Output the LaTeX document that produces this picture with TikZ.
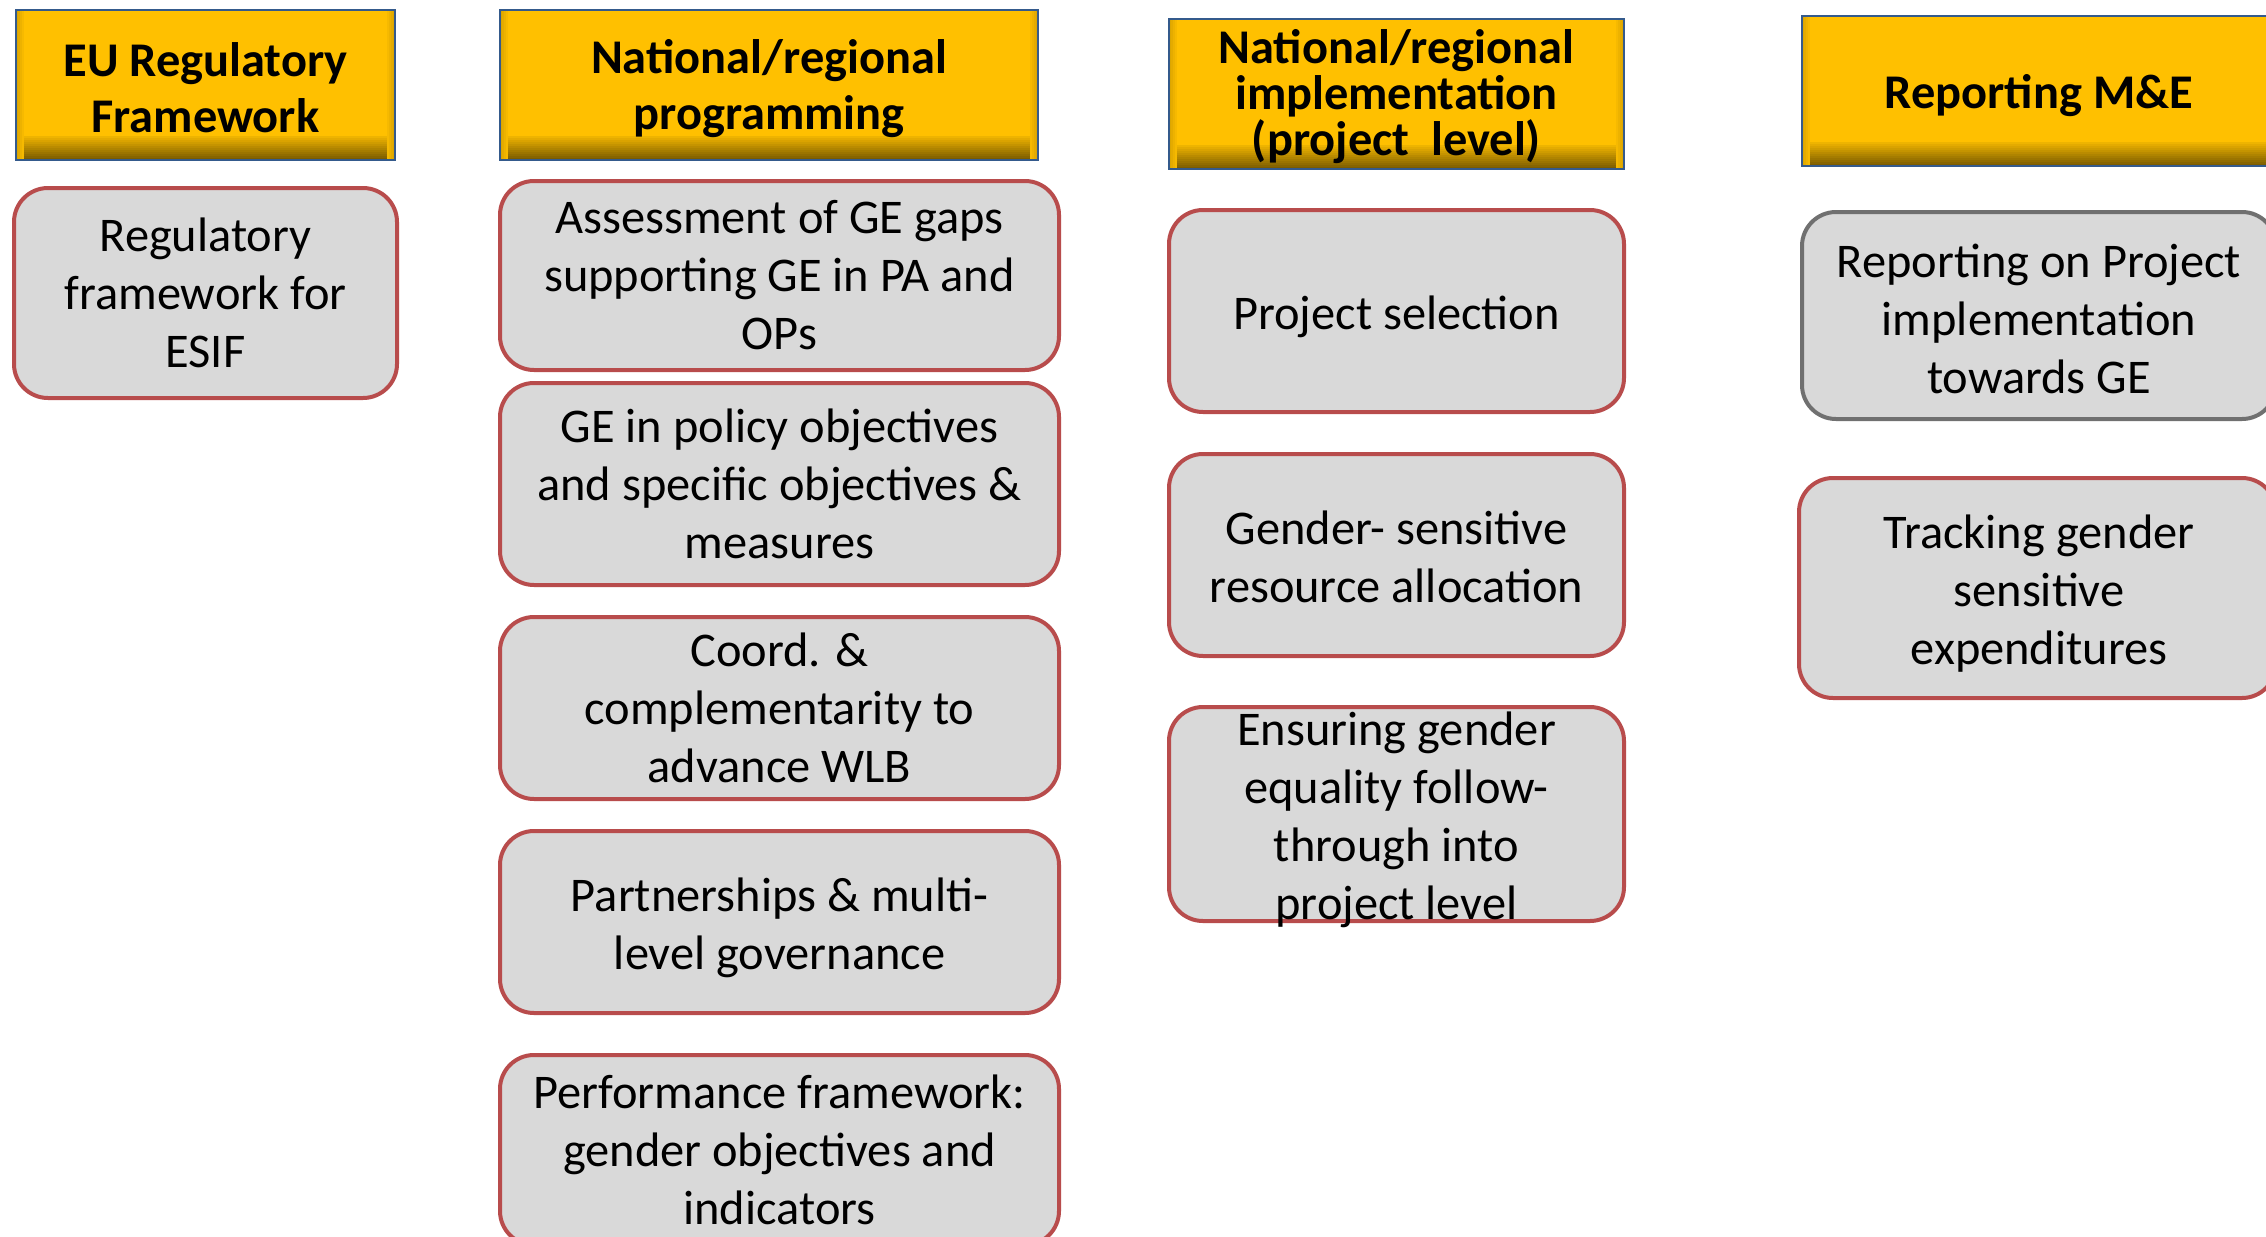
\documentclass[tikz,border=0pt]{standalone}
\usepackage{fontspec}
\setmainfont{Carlito}
\usetikzlibrary{calc}
\definecolor{hdr}{RGB}{255,192,0}
\definecolor{hdrdark}{RGB}{105,78,0}
\definecolor{hdrline}{RGB}{52,90,140}
\definecolor{boxfill}{RGB}{217,217,217}
\definecolor{boxred}{RGB}{184,76,76}
\definecolor{boxgray}{RGB}{112,112,112}
\begin{document}
\begin{tikzpicture}[x=0.5pt,y=-0.5pt,
  hdrbox/.style={rectangle, draw=hdrline, line width=1.4pt, fill=hdr, align=center,
    inner sep=0pt,
    path picture={
      \foreach \i in {0,...,11}{
        \pgfmathsetmacro{\mixa}{int(7*(\i+1)+4)}
        \fill[hdrdark!\mixa!hdr]
          ($(path picture bounding box.south west)+(0pt,12pt-\i pt)$) rectangle
          ($(path picture bounding box.south east)+(0pt,11pt-\i pt)$);
      }
      \foreach \i in {0,...,3}{
        \pgfmathsetmacro{\mixb}{int(6*(4-\i))}
        \fill[hdrdark!\mixb!hdr]
          ($(path picture bounding box.south west)+(\i pt,0pt)$) rectangle
          ($(path picture bounding box.north west)+(\i pt+1pt,0pt)$);
        \fill[hdrdark!\mixb!hdr]
          ($(path picture bounding box.south east)+(-\i pt,0pt)$) rectangle
          ($(path picture bounding box.north east)+(-\i pt-1pt,0pt)$);
      }
    }},
  itembox/.style={rectangle, rounded corners=17pt, draw=boxred, line width=2pt, fill=boxfill,
    align=center, font=\fontsize{24.2}{29}\selectfont, inner sep=0pt},
  grayitem/.style={itembox, draw=boxgray},
  lbl/.style={align=center, font=\fontsize{24.2}{29}\selectfont, inner sep=0pt},
  hlbl/.style={align=center, font=\bfseries\fontsize{24.2}{28}\selectfont, inner sep=0pt}
]
\useasboundingbox (0,0) rectangle (2266,1237);
\clip (0,0) rectangle (2266,1237);
\fill[white] (0,0) rectangle (2266,1237);

% headers
\node[hdrbox, minimum width=0.5pt*379, minimum height=0.5pt*150] (h1) at (205.5,85) {};
\node[hlbl] (t1) at (205.5,88) {EU Regulatory\\Framework};
\node[hdrbox, minimum width=0.5pt*538, minimum height=0.5pt*150] (h2) at (769,85) {};
\node[hlbl] (t2) at (769,89) {National/regional\\programming};
\node[hdrbox, minimum width=0.5pt*455, minimum height=0.5pt*150] (h3) at (1396.5,94) {};
\node[hlbl, font=\bfseries\fontsize{24.2}{23}\selectfont] (t3) at (1396.5,97) {National/regional\\implementation\\(project\ \ level)};
\node[hdrbox, minimum width=0.5pt*474, minimum height=0.5pt*150] (h4) at (2039,91) {};
\node[hlbl] (t4) at (2039,96) {Reporting M\&E};

% column 1
\node[itembox, minimum width=0.5pt*383, minimum height=0.5pt*210] (b1) at (205.5,293) {Regulatory\\framework for\\ESIF};

% column 2
\node[itembox, minimum width=0.5pt*559, minimum height=0.5pt*189] (b2a) at (779.5,275.5) {Assessment of GE gaps\\supporting GE in PA and\\OPs};
\node[itembox, minimum width=0.5pt*559, minimum height=0.5pt*202] (b2b) at (779.5,484) {GE in policy objectives\\and specific objectives \&\\measures};
\node[itembox, minimum width=0.5pt*559, minimum height=0.5pt*182] (b2c) at (779.5,708) {Coord. \&\\complementarity to\\advance WLB};
\node[itembox, minimum width=0.5pt*559, minimum height=0.5pt*182] (b2d) at (779.5,922) {};
\node[lbl] (t2d) at (779.5,928) {Partnerships \& multi-\\level governance};
\node[itembox, minimum width=0.5pt*559, minimum height=0.5pt*190] (b2e) at (779.5,1150) {Performance framework:\\gender objectives and\\indicators};

% column 3
\node[itembox, minimum width=0.5pt*455, minimum height=0.5pt*202] (b3a) at (1396.5,311) {};
\node[lbl] (t3a) at (1396.5,317) {Project selection};
\node[itembox, minimum width=0.5pt*455, minimum height=0.5pt*202] (b3b) at (1396.5,555) {};
\node[lbl] (t3b) at (1396.5,557) {Gender- sensitive\\resource allocation};
\node[itembox, minimum width=0.5pt*455, minimum height=0.5pt*214] (b3c) at (1396.5,814) {};
\node[lbl] (t3c) at (1396.5,820) {Ensuring gender\\equality follow-\\through into\\project level};

% column 4
\node[grayitem, minimum width=0.5pt*474, minimum height=0.5pt*207] (b4a) at (2039,315.5) {};
\node[lbl] (t4a) at (2039,319) {Reporting on Project\\implementation\\towards GE};
\node[itembox, minimum width=0.5pt*477, minimum height=0.5pt*220] (b4b) at (2037.5,588) {};
\node[lbl] (t4b) at (2039,594) {Tracking gender\\sensitive\\expenditures};
\end{tikzpicture}
\end{document}
